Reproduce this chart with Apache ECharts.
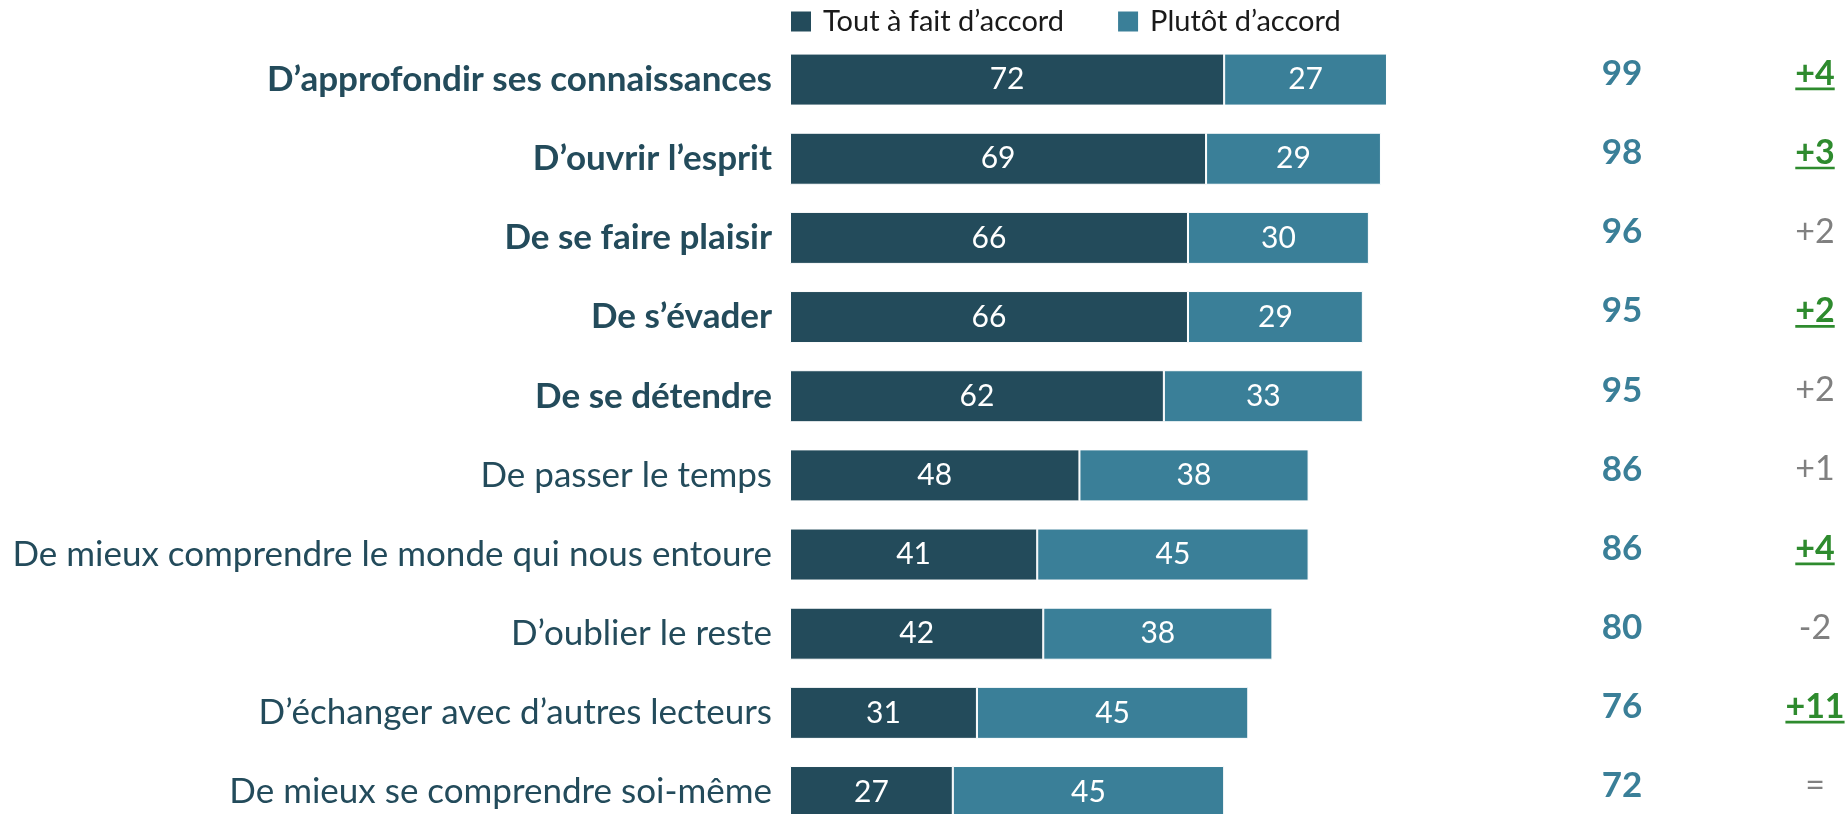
<!DOCTYPE html>
<html>
<head>
<meta charset="utf-8">
<script src="https://cdn.jsdelivr.net/npm/echarts@6/dist/echarts.min.js"></script>
<style>
  html, body { margin: 0; padding: 0; background: #ffffff; overflow: hidden; }
  #chart { width: 1847px; height: 850px; }
</style>
</head>
<body>
<div id="chart"></div>
<script>
// Reasons for reading: share of agreement, totals and change
const categories = [
  'D’approfondir ses connaissances',
  'D’ouvrir l’esprit',
  'De se faire plaisir',
  'De s’évader',
  'De se détendre',
  'De passer le temps',
  'De mieux comprendre le monde qui nous entoure',
  'D’oublier le reste',
  'D’échanger avec d’autres lecteurs',
  'De mieux se comprendre soi-même'
];
const boldRows = [true, true, true, true, true, false, false, false, false, false];
const toutAFait = [72, 69, 66, 66, 62, 48, 41, 42, 31, 27];
const plutot = [27, 29, 30, 29, 33, 38, 45, 38, 45, 45];
const totals = [99, 98, 96, 95, 95, 86, 86, 80, 76, 72];
const changes = ['+4', '+3', '+2', '+2', '+2', '+1', '+4', '-2', '+11', '='];
const significant = [true, true, false, true, false, false, true, false, true, false];
const seriesNames = ['Tout à fait d’accord', 'Plutôt d’accord'];
const columnKeys = ['total', 'evolution'];

const DARK = '#234B5B';
const LIGHT = '#3A7F98';
const GREEN = '#2E8B2E';
const GREY = '#808080';
const FONT = 'Lato, "Open Sans", sans-serif';

const measureCtx = document.createElement('canvas').getContext('2d');
function textWidth(text, font) {
  measureCtx.font = font;
  return measureCtx.measureText(text).width;
}

const chart = echarts.init(document.getElementById('chart'), null, { renderer: 'canvas' });

const barLabel = {
  show: true,
  position: 'inside',
  color: '#ffffff',
  fontFamily: FONT,
  fontSize: 30
};

const option = {
  backgroundColor: '#ffffff',
  animation: false,
  textStyle: { fontFamily: FONT },
  legend: {
    top: 7,
    left: 789,
    padding: 0,
    itemWidth: 22,
    itemHeight: 22,
    itemGap: 52,
    icon: 'rect',
    data: seriesNames,
    textStyle: { fontFamily: FONT, fontSize: 29, color: '#1a1a1a', padding: [0, 0, 0, 6] }
  },
  grid: [
    { left: 790, width: 603, top: 40, height: 791.6, containLabel: false },
    { left: 1622, right: 32, top: 34, height: 791.6, containLabel: false }
  ],
  xAxis: [
    { type: 'value', gridIndex: 0, min: 0, max: 100, show: false },
    { type: 'category', gridIndex: 1, data: columnKeys, boundaryGap: false, show: false }
  ],
  yAxis: [
    {
      type: 'category', gridIndex: 0, data: categories, inverse: true,
      axisLine: { show: false }, axisTick: { show: false }, splitLine: { show: false },
      axisLabel: {
        margin: 18,
        formatter: function (value, idx) {
          return boldRows[idx] ? '{b|' + value + '}' : '{n|' + value + '}';
        },
        rich: {
          b: { fontFamily: FONT, fontSize: 35, fontWeight: 'bold', color: DARK },
          n: { fontFamily: FONT, fontSize: 35, color: DARK }
        }
      }
    },
    { type: 'category', gridIndex: 1, data: categories, inverse: true, show: false }
  ],
  series: [
    {
      name: seriesNames[0], type: 'bar', stack: 'accord', xAxisIndex: 0, yAxisIndex: 0,
      barWidth: 52, data: toutAFait,
      itemStyle: { color: DARK, borderColor: '#ffffff', borderWidth: 1 },
      label: barLabel
    },
    {
      name: seriesNames[1], type: 'bar', stack: 'accord', xAxisIndex: 0, yAxisIndex: 0,
      barWidth: 52, data: plutot,
      itemStyle: { color: LIGHT, borderColor: '#ffffff', borderWidth: 1 },
      label: barLabel
    },
    {
      // Total agreement column
      type: 'custom', xAxisIndex: 1, yAxisIndex: 1, clip: false,
      data: totals.map((v, i) => [0, i, v]),
      renderItem: function (params, api) {
        const p = api.coord([api.value(0), api.value(1)]);
        return {
          type: 'text', x: p[0], y: p[1],
          style: {
            text: String(api.value(2)),
            fill: LIGHT,
            font: 'bold 35px ' + FONT,
            align: 'center', verticalAlign: 'middle'
          }
        };
      }
    },
    {
      // Change column; significant changes are green, bold and underlined
      type: 'custom', xAxisIndex: 1, yAxisIndex: 1, clip: false,
      data: changes.map((c, i) => [1, i]),
      renderItem: function (params, api) {
        const i = api.value(1);
        const p = api.coord([api.value(0), i]);
        const sig = significant[i];
        const font = (sig ? 'bold ' : '') + '34px ' + FONT;
        const txt = changes[i];
        const children = [{
          type: 'text', x: p[0], y: p[1],
          style: {
            text: txt, fill: sig ? GREEN : GREY, font: font,
            align: 'center', verticalAlign: 'middle'
          }
        }];
        if (sig) {
          const w = textWidth(txt, font);
          children.push({
            type: 'rect',
            shape: { x: p[0] - w / 2, y: p[1] + 14, width: w, height: 2.6 },
            style: { fill: GREEN }
          });
        }
        return { type: 'group', children: children };
      }
    }
  ]
};

chart.setOption(option);
</script>
</body>
</html>
